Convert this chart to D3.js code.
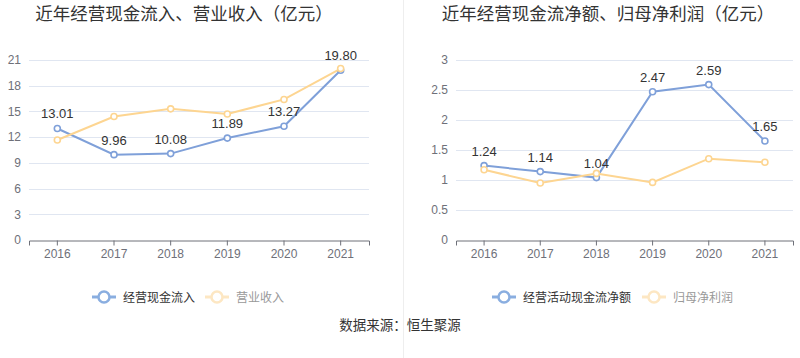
<!DOCTYPE html>
<html><head><meta charset="utf-8">
<script src="https://cdn.jsdelivr.net/npm/d3@7/dist/d3.min.js"></script>
<style>body{margin:0;background:#fff;}svg{display:block;font-family:"Noto Sans CJK SC","Liberation Sans",sans-serif;}</style>
</head><body><svg id="c" width="800" height="358"></svg>
<script>
const years = ["2016","2017","2018","2019","2020","2021"];
const cashInflow = [13.01, 9.96, 10.08, 11.89, 13.27, 19.80];
const revenue = [11.67, 14.4, 15.3, 14.7, 16.4, 20.0];
const netCashFlow = [1.24, 1.14, 1.04, 2.47, 2.59, 1.65];
const netProfit = [1.17, 0.95, 1.11, 0.96, 1.355, 1.295];
const leftTicks = [0,3,6,9,12,15,18,21];
const rightTicks = [0,0.5,1,1.5,2,2.5,3];

const BLUE = "#7fa0d9", YELLOW = "#fdd591";
const svg = d3.select("#c");

svg.append("line").attr("x1",403.5).attr("x2",403.5).attr("y1",0).attr("y2",358).attr("stroke","#eeeeee");

function panel(o){
  const g = svg.append("g");
  const x = d3.scaleBand().domain(years).range([o.x0,o.x1]);
  const y = d3.scaleLinear().domain([0,o.max]).range([240,60]);
  g.append("text").attr("x",o.tx).attr("y",20).attr("font-size",17.5).attr("fill","#333").attr("text-anchor","middle").text(o.title);
  g.selectAll(".grid").data(o.ticks.filter(t=>t>0)).enter().append("line")
   .attr("x1",o.x0).attr("x2",o.x1).attr("y1",d=>Math.round(y(d))+0.5).attr("y2",d=>Math.round(y(d))+0.5)
   .attr("stroke","#e0e6f1");
  const ya = d3.axisLeft(y).tickValues(o.ticks).tickSize(0).tickPadding(8).tickFormat(d=>String(d));
  const yg = g.append("g").attr("transform",`translate(${o.x0},0)`).call(ya);
  yg.select(".domain").remove();
  yg.selectAll("text").attr("font-size",12).attr("fill","#6e7079").attr("font-family","Liberation Sans, sans-serif");
  const xa = d3.axisBottom(x).tickSize(5).tickPadding(4);
  const xg = g.append("g").attr("transform","translate(0,240.5)").call(xa);
  xg.select(".domain").attr("stroke","#6e7079");
  xg.selectAll(".tick line").attr("stroke","#6e7079");
  xg.selectAll("text").attr("font-size",12).attr("fill","#6e7079").attr("font-family","Liberation Sans, sans-serif");
  const cx = d=>x(d)+x.bandwidth()/2;
  const series = [{v:o.s1,c:BLUE},{v:o.s2,c:YELLOW}];
  series.forEach(s=>{
    const line = d3.line().x((d,i)=>cx(years[i])).y(d=>y(d));
    g.append("path").attr("d",line(s.v)).attr("fill","none").attr("stroke",s.c).attr("stroke-width",2);
    g.selectAll(null).data(s.v).enter().append("circle")
      .attr("cx",(d,i)=>cx(years[i])).attr("cy",d=>y(d)).attr("r",3)
      .attr("fill","#fff").attr("stroke",s.c).attr("stroke-width",1.6);
  });
  g.selectAll(null).data(o.s1).enter().append("text")
   .attr("x",(d,i)=>cx(years[i])).attr("y",d=>y(d)-10).attr("text-anchor","middle")
   .attr("font-size",13).attr("fill","#333").attr("font-family","Liberation Sans, sans-serif")
   .text(d=>d.toFixed(2));
  const lg = [{x:o.l1,c:"#8aaee0",t:o.n1,tc:"#333"},{x:o.l2,c:"#fde7c3",t:o.n2,tc:"#999"}];
  lg.forEach(l=>{
    g.append("line").attr("x1",l.x).attr("x2",l.x+24).attr("y1",297).attr("y2",297).attr("stroke",l.c).attr("stroke-width",3);
    g.append("circle").attr("cx",l.x+12).attr("cy",297).attr("r",5.5).attr("fill","#fff").attr("stroke",l.c).attr("stroke-width",2.5);
    g.append("text").attr("x",l.x+31).attr("y",301.5).attr("font-size",12).attr("fill",l.tc).text(l.t);
  });
}

panel({x0:29,x1:369,max:21,ticks:leftTicks,s1:cashInflow,s2:revenue,title:"近年经营现金流入、营业收入（亿元）",tx:184,
  l1:92,l2:205,n1:"经营现金流入",n2:"营业收入"});
panel({x0:456,x1:793,max:3,ticks:rightTicks,s1:netCashFlow,s2:netProfit,title:"近年经营现金流净额、归母净利润（亿元）",tx:608,
  l1:492,l2:642,n1:"经营活动现金流净额",n2:"归母净利润"});

svg.append("text").attr("x",400).attr("y",330).attr("text-anchor","middle").attr("font-size",13.5).attr("fill","#333").text("数据来源：恒生聚源");
</script></body></html>
